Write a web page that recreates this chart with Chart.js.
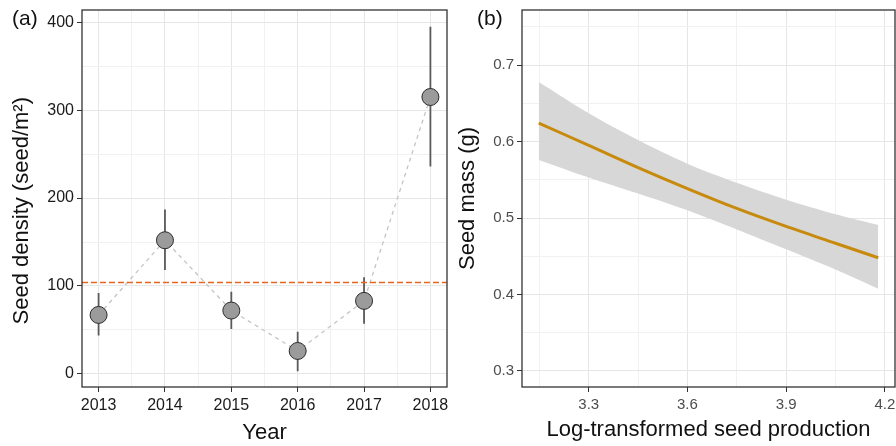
<!DOCTYPE html>
<html lang="en">
  <head>
    <meta charset="UTF-8" />
    <title>Seed density and seed mass</title>
    <script src="https://cdn.jsdelivr.net/npm/chart.js@4.4.1/dist/chart.umd.min.js"></script>
    <style>
      body {
        margin: 0;
        background: #fff;
        font-family: 'Liberation Sans', Arial, sans-serif;
      }
      .panel {
        position: absolute;
        top: 0;
        width: 448px;
        height: 446px;
      }
      .tag {
        position: absolute;
        top: 6px;
        font-size: 21px;
        color: #111;
      }
    </style>
  </head>
  <body>
    <div class="panel" style="left: 0"><canvas id="densityChart" width="448" height="446"></canvas></div>
    <div class="panel" style="left: 448px"><canvas id="massChart" width="448" height="446"></canvas></div>
    <div class="tag" style="left: 12px">(a)</div>
    <div class="tag" style="left: 477px">(b)</div>

    <script>
      // Panel (a): seed density by year
      const years = [2013, 2014, 2015, 2016, 2017, 2018]
      const density = [67, 152, 72, 26, 83, 315]
      const densityLow = [43.5, 118, 51, 3, 57, 236]
      const densityHigh = [92, 187, 93.5, 48, 110, 395]
      const meanDensity = 104
      const yearMinor = [2013.5, 2014.5, 2015.5, 2016.5, 2017.5]
      const densityTicks = [0, 100, 200, 300, 400]
      const densityMinor = [50, 150, 250, 350]

      // Panel (b): fitted seed mass vs log seed production
      const logProd = [3.148, 3.3, 3.45, 3.6, 3.75, 3.9, 4.05, 4.18]
      const massFit = [0.624, 0.595, 0.566, 0.5385, 0.5125, 0.489, 0.467, 0.448]
      const massUpper = [0.678, 0.637, 0.602, 0.571, 0.546, 0.524, 0.505, 0.491]
      const massLower = [0.576, 0.553, 0.532, 0.51, 0.485, 0.459, 0.4325, 0.4075]
      const prodTicks = [3.3, 3.6, 3.9, 4.2]
      const prodMinor = [3.15, 3.45, 3.75, 4.05]
      const massTicks = [0.3, 0.4, 0.5, 0.6, 0.7]
      const massMinor = [0.35, 0.45, 0.55, 0.65, 0.75]

      const FONT = "'Liberation Sans', Arial, sans-serif"

      // full panel border like theme_bw
      const panelBorder = {
        id: 'panelBorder',
        afterDraw(chart) {
          const { ctx, chartArea: a } = chart
          ctx.save()
          ctx.strokeStyle = '#333'
          ctx.lineWidth = 1.3
          ctx.strokeRect(a.left, a.top, a.right - a.left, a.bottom - a.top)
          ctx.restore()
        }
      }

      function axis(opts) {
        const { min, max, major, minor, size, fontSize, color, title, titlePad, fmt, horizontal } = opts
        return {
          type: 'linear',
          min: min,
          max: max,
          afterBuildTicks: s => {
            s.ticks = major.concat(minor).map(v => ({ value: v }))
          },
          afterFit: s => {
            // fixed axis size, no label overhang padding
            if (horizontal) s.height = size
            else s.width = size
            s.paddingLeft = s.paddingRight = s.paddingTop = s.paddingBottom = 0
          },
          border: { display: false },
          grid: {
            color: c => (minor.includes(c.tick && c.tick.value) ? '#f1f1f1' : '#e6e6e6'),
            lineWidth: 1,
            tickLength: 5,
            tickColor: c => (minor.includes(c.tick && c.tick.value) ? 'rgba(0,0,0,0)' : '#333')
          },
          ticks: {
            autoSkip: false,
            maxRotation: 0,
            padding: horizontal ? 4 : 3,
            color: color,
            font: { family: FONT, size: fontSize },
            callback: v => (major.includes(v) ? fmt(v) : '')
          },
          title: {
            display: true,
            text: title,
            color: '#111',
            font: { family: FONT, size: 22 },
            padding: titlePad
          }
        }
      }

      // error bars as one broken line dataset
      const errorData = []
      years.forEach((y, i) => {
        errorData.push({ x: y, y: densityLow[i] })
        errorData.push({ x: y, y: densityHigh[i] })
        errorData.push({ x: y, y: null })
      })

      new Chart(document.getElementById('densityChart'), {
        type: 'line',
        data: {
          datasets: [
            {
              data: [
                { x: 2012.75, y: meanDensity },
                { x: 2018.25, y: meanDensity }
              ],
              borderColor: '#e8661c',
              borderWidth: 1.5,
              borderDash: [6, 3],
              pointRadius: 0
            },
            {
              data: years.map((y, i) => ({ x: y, y: density[i] })),
              showLine: false,
              pointRadius: 8.5,
              pointBackgroundColor: '#9b9b9b',
              pointBorderColor: '#2b2b2b',
              pointBorderWidth: 1
            },
            {
              data: errorData,
              borderColor: '#5a5a5a',
              borderWidth: 1.8,
              spanGaps: false,
              pointRadius: 0
            },
            {
              data: years.map((y, i) => ({ x: y, y: density[i] })),
              borderColor: '#c4c4c4',
              borderWidth: 1.3,
              borderDash: [4, 4],
              pointRadius: 0
            }
          ]
        },
        options: {
          responsive: false,
          animation: false,
          layout: { autoPadding: false, padding: { left: 0, right: 1, top: 10, bottom: 0 } },
          plugins: { legend: { display: false }, tooltip: { enabled: false } },
          scales: {
            x: axis({
              min: 2012.75,
              max: 2018.25,
              major: years,
              minor: yearMinor,
              size: 59,
              fontSize: 16,
              color: '#1a1a1a',
              title: 'Year',
              titlePad: { top: 0, bottom: 0 },
              fmt: v => String(v),
              horizontal: true
            }),
            y: axis({
              min: -15,
              max: 414,
              major: densityTicks,
              minor: densityMinor,
              size: 82,
              fontSize: 16,
              color: '#1a1a1a',
              // trailing spaces push the title down like the original
              title: 'Seed density (seed/m²)    ',
              titlePad: { top: 9, bottom: 0 },
              fmt: v => String(v)
            })
          }
        },
        plugins: [panelBorder]
      })

      new Chart(document.getElementById('massChart'), {
        type: 'line',
        data: {
          datasets: [
            {
              data: logProd.map((x, i) => ({ x: x, y: massFit[i] })),
              borderColor: '#c88a0c',
              borderWidth: 3,
              tension: 0.3,
              pointRadius: 0
            },
            {
              data: logProd.map((x, i) => ({ x: x, y: massUpper[i] })),
              borderWidth: 0,
              borderColor: 'rgba(0,0,0,0)',
              tension: 0.3,
              pointRadius: 0
            },
            {
              data: logProd.map((x, i) => ({ x: x, y: massLower[i] })),
              borderWidth: 0,
              borderColor: 'rgba(0,0,0,0)',
              backgroundColor: '#d7d7d7',
              tension: 0.3,
              fill: '-1',
              pointRadius: 0
            }
          ]
        },
        options: {
          responsive: false,
          animation: false,
          layout: { autoPadding: false, padding: { left: 0, right: 1, top: 10, bottom: 0 } },
          plugins: { legend: { display: false }, tooltip: { enabled: false } },
          scales: {
            x: axis({
              min: 3.097,
              max: 4.231,
              major: prodTicks,
              minor: prodMinor,
              size: 59,
              fontSize: 15,
              color: '#4d4d4d',
              title: 'Log-transformed seed production',
              titlePad: { top: 0, bottom: 3 },
              fmt: v => v.toFixed(1),
              horizontal: true
            }),
            y: axis({
              min: 0.279,
              max: 0.772,
              major: massTicks,
              minor: massMinor,
              size: 74,
              fontSize: 15,
              color: '#4d4d4d',
              title: 'Seed mass (g)',
              titlePad: { top: 7, bottom: 0 },
              fmt: v => v.toFixed(1)
            })
          }
        },
        plugins: [panelBorder]
      })
    </script>
  </body>
</html>
